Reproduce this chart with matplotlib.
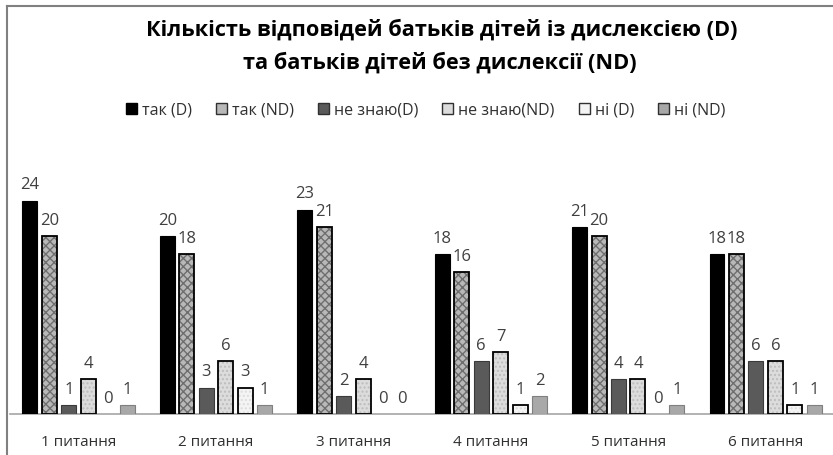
import matplotlib.pyplot as plt
from matplotlib.patches import Patch
from matplotlib.lines import Line2D
import numpy as np

plt.rcParams['font.family'] = ['Open Sans', 'DejaVu Sans']

categories = ["1 питання", "2 питання", "3 питання", "4 питання", "5 питання", "6 питання"]
series_names = ["так (D)", "так (ND)", "не знаю(D)", "не знаю(ND)", "ні (D)", "ні (ND)"]
tak_d = [24, 20, 23, 18, 21, 18]
tak_nd = [20, 18, 21, 16, 20, 18]
ne_znayu_d = [1, 3, 2, 6, 4, 6]
ne_znayu_nd = [4, 6, 4, 7, 4, 6]
ni_d = [0, 3, 0, 1, 0, 1]
ni_nd = [1, 1, 0, 2, 1, 1]
values = [tak_d, tak_nd, ne_znayu_d, ne_znayu_nd, ni_d, ni_nd]

# fill, hatch colour, hatch, edge colour, edge width
styles = [
    ("#000000", None, None, "#000000", 0.8),
    ("#b8b8b8", "#6e6e6e", "xxxx", "#000000", 1.3),
    ("#5a5a5a", None, None, "#3a3a3a", 0.8),
    ("#dcdcdc", "#bdbdbd", "....", "#000000", 1.3),
    ("#f4f4f4", "#dddddd", "....", "#000000", 1.3),
    ("#a8a8a8", None, None, "#7f7f7f", 0.8),
]

fig = plt.figure(figsize=(8.33, 4.55), dpi=100)
ax = fig.add_axes([0.0117, 0.0895, 0.99, 0.587])

x = np.arange(len(categories))
pitch = 0.1417
width = 0.109
handles = []
for i, (vals, name, st) in enumerate(zip(values, series_names, styles)):
    fc, hc, hatch, ec, lw = st
    pos = x + (i - 2.5) * pitch
    lws = [lw if v > 0 else 0 for v in vals]
    if hatch:
        ax.bar(pos, vals, width, color=fc, edgecolor=hc, hatch=hatch, linewidth=0, zorder=2)
        ax.bar(pos, vals, width, facecolor="none", edgecolor=ec, linewidth=lws, zorder=3)
    else:
        ax.bar(pos, vals, width, color=fc, edgecolor=ec, linewidth=lws, zorder=3)
    for px, v in zip(pos, vals):
        ax.text(px, v + 0.8, str(v), ha="center", va="bottom", fontsize=12, color="#404040")
    handles.append(Patch(facecolor=fc, edgecolor="#000000" if i == 0 else "#303030",
                         linewidth=1.0, label=name))

ax.set_xlim(-0.5, 5.5)
ax.set_ylim(0, 30)
ax.set_yticks([])
ax.set_xticks(x)
ax.set_xticklabels(categories, fontsize=11, color="#303030")
ax.tick_params(axis="x", length=0, pad=15)
for s in ["top", "right", "left"]:
    ax.spines[s].set_visible(False)
ax.spines["bottom"].set_color("#a6a6a6")
ax.spines["bottom"].set_linewidth(1.2)

fig.text(0.530, 0.934, "Кількість відповідей батьків дітей із дислексією (D)",
         ha="center", va="center", fontsize=15.7, fontweight="bold")
fig.text(0.528, 0.861, "та батьків дітей без дислексії (ND)",
         ha="center", va="center", fontsize=15.7, fontweight="bold")

fig.legend(handles=handles, loc="center", bbox_to_anchor=(0.511, 0.758), ncol=6,
           frameon=False, fontsize=11.5, handlelength=0.7, handleheight=0.7,
           handletextpad=0.3, columnspacing=1.5, labelcolor="#303030")

# outer frame edges visible in the crop
fig.add_artist(Line2D([0.0084, 0.0084], [0, 0.987], color="#808080", linewidth=1.5))
fig.add_artist(Line2D([0.0084, 1.0], [0.987, 0.987], color="#808080", linewidth=1.5))

fig.savefig("out.png", dpi=100, facecolor="white")
